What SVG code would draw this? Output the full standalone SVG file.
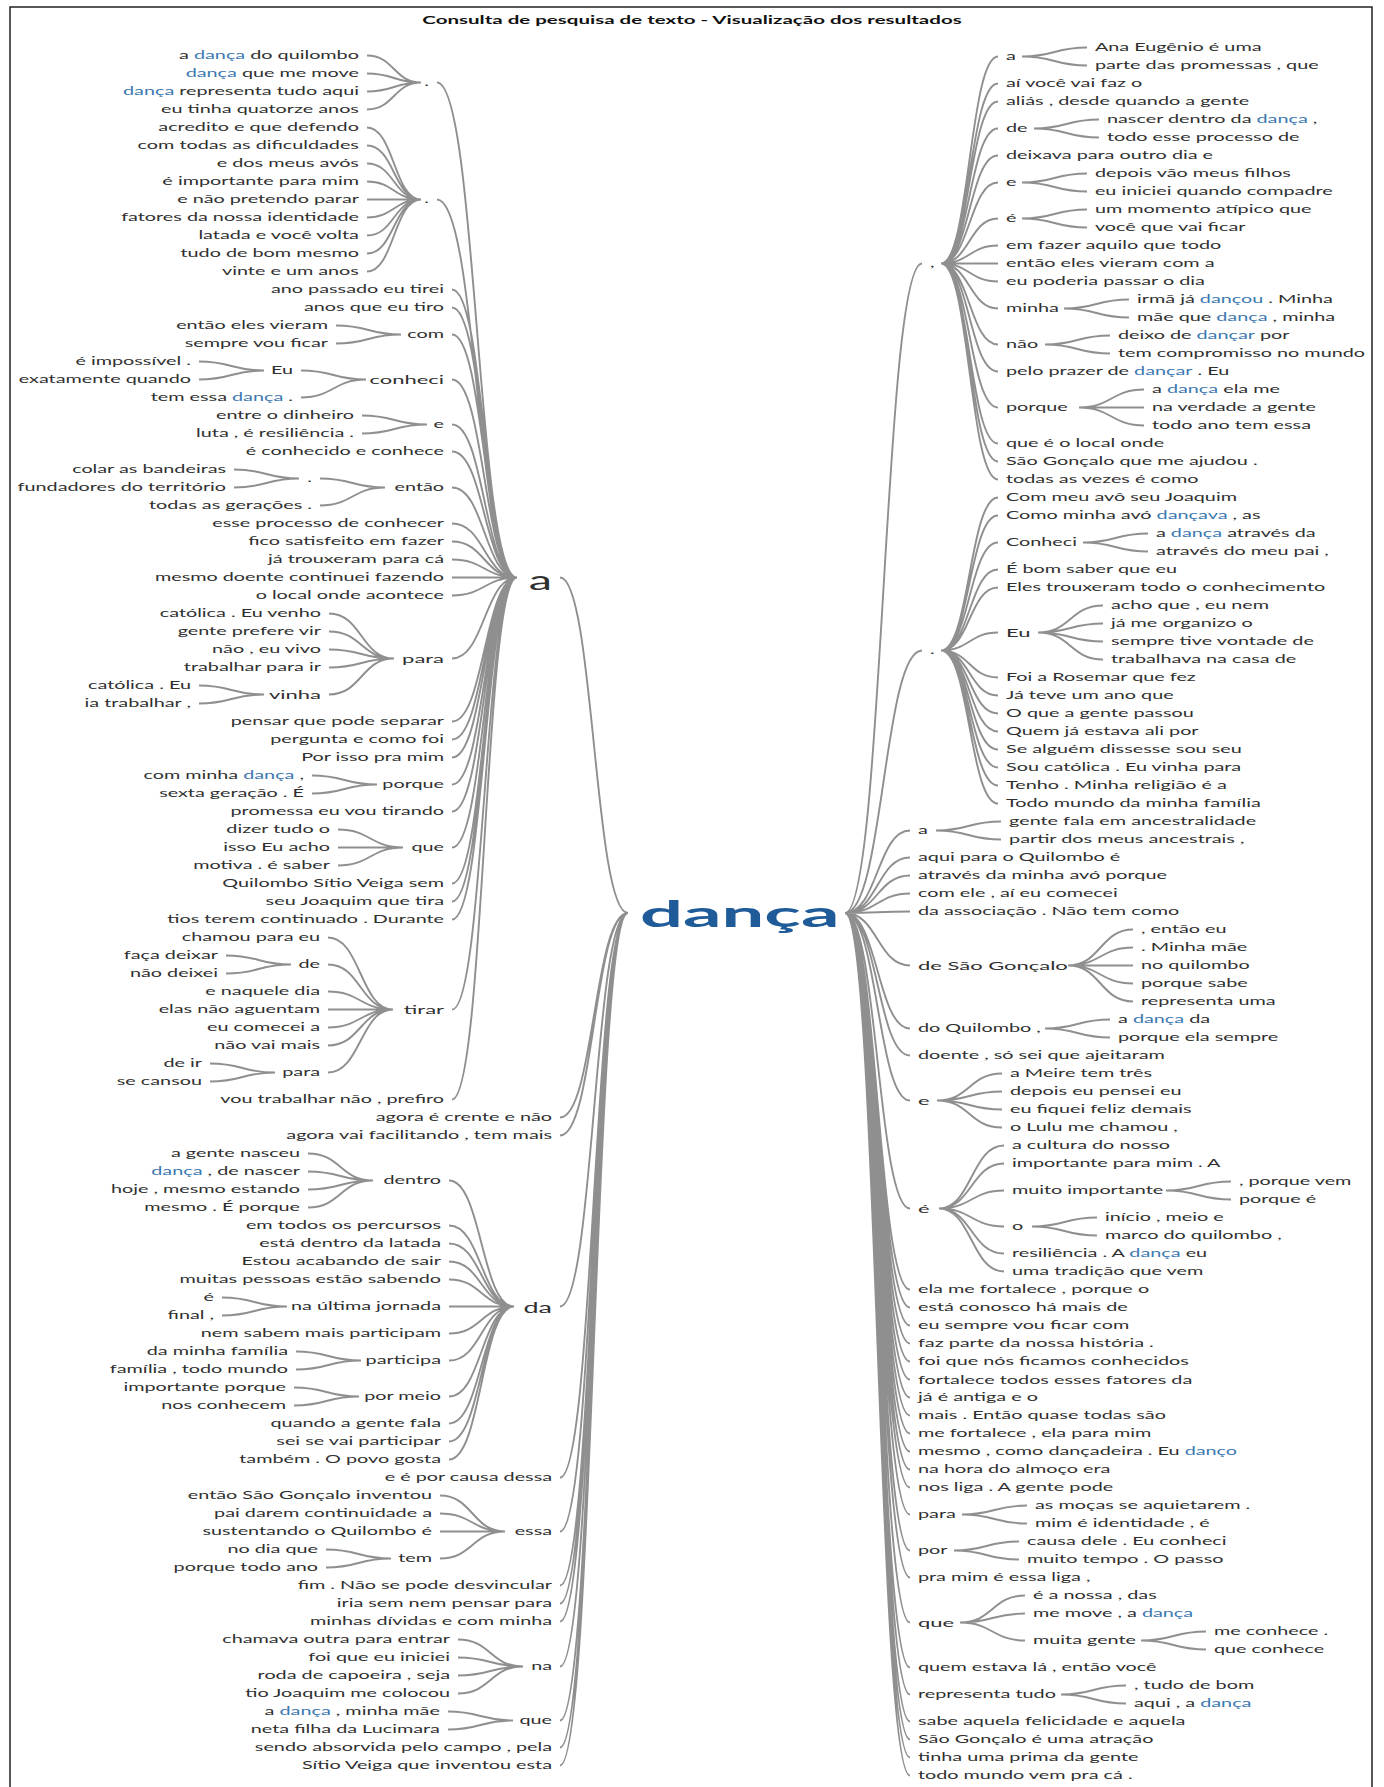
<svg xmlns="http://www.w3.org/2000/svg" width="1384" height="1787" viewBox="0 0 1384 1787">
<style>
.t{font-family:Lato,"Open Sans","Liberation Sans",sans-serif;font-size:11px;fill:#2f2f2f}
.e{text-anchor:end}
.m{font-size:12.2px}
.h{fill:#3b78b0}
.c{fill:none;stroke:#8f8f8f;stroke-width:1.9}
</style>
<rect x="10" y="7" width="1362" height="1800" fill="#fff" stroke="#222" stroke-width="1.5"/>
<g id="connectors" class="c">
<path d="M367 55.5C394 55.5 394 82.5 421 82.5M367 73.5C394 73.5 394 82.5 421 82.5M367 91.5C394 91.5 394 82.5 421 82.5M367 109.5C394 109.5 394 82.5 421 82.5"/>
<path d="M367 127.5C394 127.5 394 199.5 421 199.5M367 145.5C394 145.5 394 199.5 421 199.5M367 163.5C394 163.5 394 199.5 421 199.5M367 181.5C394 181.5 394 199.5 421 199.5M367 199.5C394 199.5 394 199.5 421 199.5M367 217.5C394 217.5 394 199.5 421 199.5M367 235.5C394 235.5 394 199.5 421 199.5M367 253.5C394 253.5 394 199.5 421 199.5M367 271.5C394 271.5 394 199.5 421 199.5"/>
<path d="M336 325.5C368.5 325.5 368.5 334.5 401 334.5M336 343.5C368.5 343.5 368.5 334.5 401 334.5"/>
<path d="M199 361.5C231.5 361.5 231.5 370.5 264 370.5M199 379.5C231.5 379.5 231.5 370.5 264 370.5"/>
<path d="M301 370.5C333.5 370.5 333.5 379.5 366 379.5M301 397.5C333.5 397.5 333.5 379.5 366 379.5"/>
<path d="M362 415.5C394.5 415.5 394.5 424.5 427 424.5M362 433.5C394.5 433.5 394.5 424.5 427 424.5"/>
<path d="M234 469.5C266.5 469.5 266.5 478.5 299 478.5M234 487.5C266.5 487.5 266.5 478.5 299 478.5"/>
<path d="M320 478.5C352.5 478.5 352.5 487.5 385 487.5M320 505.5C352.5 505.5 352.5 487.5 385 487.5"/>
<path d="M329 613.5C361.5 613.5 361.5 658.5 394 658.5M329 631.5C361.5 631.5 361.5 658.5 394 658.5M329 649.5C361.5 649.5 361.5 658.5 394 658.5M329 667.5C361.5 667.5 361.5 658.5 394 658.5M329 694.5C361.5 694.5 361.5 658.5 394 658.5"/>
<path d="M199 685.5C231.5 685.5 231.5 694.5 264 694.5M199 703.5C231.5 703.5 231.5 694.5 264 694.5"/>
<path d="M312 775.5C344.5 775.5 344.5 784.5 377 784.5M312 793.5C344.5 793.5 344.5 784.5 377 784.5"/>
<path d="M338 829.5C370.5 829.5 370.5 847.5 403 847.5M338 847.5C370.5 847.5 370.5 847.5 403 847.5M338 865.5C370.5 865.5 370.5 847.5 403 847.5"/>
<path d="M328 937.5C360.5 937.5 360.5 1009.5 393 1009.5M328 964.5C360.5 964.5 360.5 1009.5 393 1009.5M328 991.5C360.5 991.5 360.5 1009.5 393 1009.5M328 1009.5C360.5 1009.5 360.5 1009.5 393 1009.5M328 1027.5C360.5 1027.5 360.5 1009.5 393 1009.5M328 1045.5C360.5 1045.5 360.5 1009.5 393 1009.5M328 1072.5C360.5 1072.5 360.5 1009.5 393 1009.5"/>
<path d="M226 955.5C258.5 955.5 258.5 964.5 291 964.5M226 973.5C258.5 973.5 258.5 964.5 291 964.5"/>
<path d="M210 1063.5C242.5 1063.5 242.5 1072.5 275 1072.5M210 1081.5C242.5 1081.5 242.5 1072.5 275 1072.5"/>
<path d="M437 82.5C477 82.5 477 577.5 517 577.5M437 199.5C477 199.5 477 577.5 517 577.5M452 289.5C484.5 289.5 484.5 577.5 517 577.5M452 307.5C484.5 307.5 484.5 577.5 517 577.5M452 334.5C484.5 334.5 484.5 577.5 517 577.5M452 379.5C484.5 379.5 484.5 577.5 517 577.5M452 424.5C484.5 424.5 484.5 577.5 517 577.5M452 451.5C484.5 451.5 484.5 577.5 517 577.5M452 487.5C484.5 487.5 484.5 577.5 517 577.5M452 523.5C484.5 523.5 484.5 577.5 517 577.5M452 541.5C484.5 541.5 484.5 577.5 517 577.5M452 559.5C484.5 559.5 484.5 577.5 517 577.5M452 577.5C484.5 577.5 484.5 577.5 517 577.5M452 595.5C484.5 595.5 484.5 577.5 517 577.5M452 658.5C484.5 658.5 484.5 577.5 517 577.5M452 721.5C484.5 721.5 484.5 577.5 517 577.5M452 739.5C484.5 739.5 484.5 577.5 517 577.5M452 757.5C484.5 757.5 484.5 577.5 517 577.5M452 784.5C484.5 784.5 484.5 577.5 517 577.5M452 811.5C484.5 811.5 484.5 577.5 517 577.5M452 847.5C484.5 847.5 484.5 577.5 517 577.5M452 883.5C484.5 883.5 484.5 577.5 517 577.5M452 901.5C484.5 901.5 484.5 577.5 517 577.5M452 919.5C484.5 919.5 484.5 577.5 517 577.5M452 1009.5C484.5 1009.5 484.5 577.5 517 577.5M452 1099.5C484.5 1099.5 484.5 577.5 517 577.5"/>
<path d="M308 1153.5C340.5 1153.5 340.5 1180.5 373 1180.5M308 1171.5C340.5 1171.5 340.5 1180.5 373 1180.5M308 1189.5C340.5 1189.5 340.5 1180.5 373 1180.5M308 1207.5C340.5 1207.5 340.5 1180.5 373 1180.5"/>
<path d="M222 1297.5C254.5 1297.5 254.5 1306.5 287 1306.5M222 1315.5C254.5 1315.5 254.5 1306.5 287 1306.5"/>
<path d="M296 1351.5C328.5 1351.5 328.5 1360.5 361 1360.5M296 1369.5C328.5 1369.5 328.5 1360.5 361 1360.5"/>
<path d="M294 1387.5C326.5 1387.5 326.5 1396.5 359 1396.5M294 1405.5C326.5 1405.5 326.5 1396.5 359 1396.5"/>
<path d="M449 1180.5C481.5 1180.5 481.5 1306.5 514 1306.5M449 1225.5C481.5 1225.5 481.5 1306.5 514 1306.5M449 1243.5C481.5 1243.5 481.5 1306.5 514 1306.5M449 1261.5C481.5 1261.5 481.5 1306.5 514 1306.5M449 1279.5C481.5 1279.5 481.5 1306.5 514 1306.5M449 1306.5C481.5 1306.5 481.5 1306.5 514 1306.5M449 1333.5C481.5 1333.5 481.5 1306.5 514 1306.5M449 1360.5C481.5 1360.5 481.5 1306.5 514 1306.5M449 1396.5C481.5 1396.5 481.5 1306.5 514 1306.5M449 1423.5C481.5 1423.5 481.5 1306.5 514 1306.5M449 1441.5C481.5 1441.5 481.5 1306.5 514 1306.5M449 1459.5C481.5 1459.5 481.5 1306.5 514 1306.5"/>
<path d="M326 1549.5C358.5 1549.5 358.5 1558.5 391 1558.5M326 1567.5C358.5 1567.5 358.5 1558.5 391 1558.5"/>
<path d="M440 1495.5C472.5 1495.5 472.5 1531.5 505 1531.5M440 1513.5C472.5 1513.5 472.5 1531.5 505 1531.5M440 1531.5C472.5 1531.5 472.5 1531.5 505 1531.5M440 1558.5C472.5 1558.5 472.5 1531.5 505 1531.5"/>
<path d="M458 1639.5C490.5 1639.5 490.5 1666.5 523 1666.5M458 1657.5C490.5 1657.5 490.5 1666.5 523 1666.5M458 1675.5C490.5 1675.5 490.5 1666.5 523 1666.5M458 1693.5C490.5 1693.5 490.5 1666.5 523 1666.5"/>
<path d="M448 1711.5C480.5 1711.5 480.5 1720.5 513 1720.5M448 1729.5C480.5 1729.5 480.5 1720.5 513 1720.5"/>
<path d="M560 577.5C594 577.5 594 913 628 913M560 1117.5C594 1117.5 594 913 628 913M560 1135.5C594 1135.5 594 913 628 913M560 1306.5C594 1306.5 594 913 628 913M560 1477.5C594 1477.5 594 913 628 913M560 1531.5C594 1531.5 594 913 628 913M560 1585.5C594 1585.5 594 913 628 913M560 1603.5C594 1603.5 594 913 628 913M560 1621.5C594 1621.5 594 913 628 913M560 1666.5C594 1666.5 594 913 628 913M560 1720.5C594 1720.5 594 913 628 913M560 1747.5C594 1747.5 594 913 628 913M560 1765.5C594 1765.5 594 913 628 913"/>
<path d="M845 913C883.5 913 883.5 263.5 922 263.5M845 913C883.5 913 883.5 650.5 922 650.5M845 913C877.5 913 877.5 830.5 910 830.5M845 913C877.5 913 877.5 857.5 910 857.5M845 913C877.5 913 877.5 875.5 910 875.5M845 913C877.5 913 877.5 893.5 910 893.5M845 913C877.5 913 877.5 911.5 910 911.5M845 913C877.5 913 877.5 965.5 910 965.5M845 913C877.5 913 877.5 1028.5 910 1028.5M845 913C877.5 913 877.5 1055.5 910 1055.5M845 913C877.5 913 877.5 1100.5 910 1100.5M845 913C877.5 913 877.5 1208.5 910 1208.5M845 913C877.5 913 877.5 1289.5 910 1289.5M845 913C877.5 913 877.5 1307.5 910 1307.5M845 913C877.5 913 877.5 1325.5 910 1325.5M845 913C877.5 913 877.5 1343.5 910 1343.5M845 913C877.5 913 877.5 1361.5 910 1361.5M845 913C877.5 913 877.5 1379.5 910 1379.5M845 913C877.5 913 877.5 1397.5 910 1397.5M845 913C877.5 913 877.5 1415.5 910 1415.5M845 913C877.5 913 877.5 1433.5 910 1433.5M845 913C877.5 913 877.5 1451.5 910 1451.5M845 913C877.5 913 877.5 1469.5 910 1469.5M845 913C877.5 913 877.5 1487.5 910 1487.5M845 913C877.5 913 877.5 1514.5 910 1514.5M845 913C877.5 913 877.5 1550.5 910 1550.5M845 913C877.5 913 877.5 1577.5 910 1577.5M845 913C877.5 913 877.5 1622.5 910 1622.5M845 913C877.5 913 877.5 1667.5 910 1667.5M845 913C877.5 913 877.5 1694.5 910 1694.5M845 913C877.5 913 877.5 1721.5 910 1721.5M845 913C877.5 913 877.5 1739.5 910 1739.5M845 913C877.5 913 877.5 1757.5 910 1757.5M845 913C877.5 913 877.5 1775.5 910 1775.5"/>
<path d="M941 263.5C969.5 263.5 969.5 56.5 998 56.5M941 263.5C969.5 263.5 969.5 83.5 998 83.5M941 263.5C969.5 263.5 969.5 101.5 998 101.5M941 263.5C969.5 263.5 969.5 128.5 998 128.5M941 263.5C969.5 263.5 969.5 155.5 998 155.5M941 263.5C969.5 263.5 969.5 182.5 998 182.5M941 263.5C969.5 263.5 969.5 218.5 998 218.5M941 263.5C969.5 263.5 969.5 245.5 998 245.5M941 263.5C969.5 263.5 969.5 263.5 998 263.5M941 263.5C969.5 263.5 969.5 281.5 998 281.5M941 263.5C969.5 263.5 969.5 308.5 998 308.5M941 263.5C969.5 263.5 969.5 344.5 998 344.5M941 263.5C969.5 263.5 969.5 371.5 998 371.5M941 263.5C969.5 263.5 969.5 407.5 998 407.5M941 263.5C969.5 263.5 969.5 443.5 998 443.5M941 263.5C969.5 263.5 969.5 461.5 998 461.5M941 263.5C969.5 263.5 969.5 479.5 998 479.5"/>
<path d="M941 650.5C969.5 650.5 969.5 497.5 998 497.5M941 650.5C969.5 650.5 969.5 515.5 998 515.5M941 650.5C969.5 650.5 969.5 542.5 998 542.5M941 650.5C969.5 650.5 969.5 569.5 998 569.5M941 650.5C969.5 650.5 969.5 587.5 998 587.5M941 650.5C969.5 650.5 969.5 632.5 998 632.5M941 650.5C969.5 650.5 969.5 677.5 998 677.5M941 650.5C969.5 650.5 969.5 695.5 998 695.5M941 650.5C969.5 650.5 969.5 713.5 998 713.5M941 650.5C969.5 650.5 969.5 731.5 998 731.5M941 650.5C969.5 650.5 969.5 749.5 998 749.5M941 650.5C969.5 650.5 969.5 767.5 998 767.5M941 650.5C969.5 650.5 969.5 785.5 998 785.5M941 650.5C969.5 650.5 969.5 803.5 998 803.5"/>
<path d="M1022 56.5C1054.5 56.5 1054.5 47.5 1087 47.5M1022 56.5C1054.5 56.5 1054.5 65.5 1087 65.5"/>
<path d="M1034 128.5C1066.5 128.5 1066.5 119.5 1099 119.5M1034 128.5C1066.5 128.5 1066.5 137.5 1099 137.5"/>
<path d="M1022 182.5C1054.5 182.5 1054.5 173.5 1087 173.5M1022 182.5C1054.5 182.5 1054.5 191.5 1087 191.5"/>
<path d="M1022 218.5C1054.5 218.5 1054.5 209.5 1087 209.5M1022 218.5C1054.5 218.5 1054.5 227.5 1087 227.5"/>
<path d="M1064 308.5C1096.5 308.5 1096.5 299.5 1129 299.5M1064 308.5C1096.5 308.5 1096.5 317.5 1129 317.5"/>
<path d="M1045 344.5C1077.5 344.5 1077.5 335.5 1110 335.5M1045 344.5C1077.5 344.5 1077.5 353.5 1110 353.5"/>
<path d="M1079 407.5C1111.5 407.5 1111.5 389.5 1144 389.5M1079 407.5C1111.5 407.5 1111.5 407.5 1144 407.5M1079 407.5C1111.5 407.5 1111.5 425.5 1144 425.5"/>
<path d="M1083 542.5C1115.5 542.5 1115.5 533.5 1148 533.5M1083 542.5C1115.5 542.5 1115.5 551.5 1148 551.5"/>
<path d="M1038 632.5C1070.5 632.5 1070.5 605.5 1103 605.5M1038 632.5C1070.5 632.5 1070.5 623.5 1103 623.5M1038 632.5C1070.5 632.5 1070.5 641.5 1103 641.5M1038 632.5C1070.5 632.5 1070.5 659.5 1103 659.5"/>
<path d="M936 830.5C968.5 830.5 968.5 821.5 1001 821.5M936 830.5C968.5 830.5 968.5 839.5 1001 839.5"/>
<path d="M1068 965.5C1100.5 965.5 1100.5 929.5 1133 929.5M1068 965.5C1100.5 965.5 1100.5 947.5 1133 947.5M1068 965.5C1100.5 965.5 1100.5 965.5 1133 965.5M1068 965.5C1100.5 965.5 1100.5 983.5 1133 983.5M1068 965.5C1100.5 965.5 1100.5 1001.5 1133 1001.5"/>
<path d="M1045 1028.5C1077.5 1028.5 1077.5 1019.5 1110 1019.5M1045 1028.5C1077.5 1028.5 1077.5 1037.5 1110 1037.5"/>
<path d="M937 1100.5C969.5 1100.5 969.5 1073.5 1002 1073.5M937 1100.5C969.5 1100.5 969.5 1091.5 1002 1091.5M937 1100.5C969.5 1100.5 969.5 1109.5 1002 1109.5M937 1100.5C969.5 1100.5 969.5 1127.5 1002 1127.5"/>
<path d="M939 1208.5C971.5 1208.5 971.5 1145.5 1004 1145.5M939 1208.5C971.5 1208.5 971.5 1163.5 1004 1163.5M939 1208.5C971.5 1208.5 971.5 1190.5 1004 1190.5M939 1208.5C971.5 1208.5 971.5 1226.5 1004 1226.5M939 1208.5C971.5 1208.5 971.5 1253.5 1004 1253.5M939 1208.5C971.5 1208.5 971.5 1271.5 1004 1271.5"/>
<path d="M1166 1190.5C1198.5 1190.5 1198.5 1181.5 1231 1181.5M1166 1190.5C1198.5 1190.5 1198.5 1199.5 1231 1199.5"/>
<path d="M1032 1226.5C1064.5 1226.5 1064.5 1217.5 1097 1217.5M1032 1226.5C1064.5 1226.5 1064.5 1235.5 1097 1235.5"/>
<path d="M962 1514.5C994.5 1514.5 994.5 1505.5 1027 1505.5M962 1514.5C994.5 1514.5 994.5 1523.5 1027 1523.5"/>
<path d="M954 1550.5C986.5 1550.5 986.5 1541.5 1019 1541.5M954 1550.5C986.5 1550.5 986.5 1559.5 1019 1559.5"/>
<path d="M960 1622.5C992.5 1622.5 992.5 1595.5 1025 1595.5M960 1622.5C992.5 1622.5 992.5 1613.5 1025 1613.5M960 1622.5C992.5 1622.5 992.5 1640.5 1025 1640.5"/>
<path d="M1141 1640.5C1173.5 1640.5 1173.5 1631.5 1206 1631.5M1141 1640.5C1173.5 1640.5 1173.5 1649.5 1206 1649.5"/>
<path d="M1061 1694.5C1093.5 1694.5 1093.5 1685.5 1126 1685.5M1061 1694.5C1093.5 1694.5 1093.5 1703.5 1126 1703.5"/>
</g>
<g id="title"><text x="692" y="24" text-anchor="middle" transform="translate(692 0) scale(1.8 1) translate(-692 0)" style="font-family:Lato,'Liberation Sans',sans-serif;font-size:11.4px;font-weight:bold;fill:#111">Consulta de pesquisa de texto - Visualização dos resultados</text></g>
<g id="root"><text transform="translate(640 927) scale(2.05 1)" style="font-family:Lato,'Liberation Sans',sans-serif;font-size:37px;font-weight:bold;fill:#1f5b98">dança</text></g>
<g transform="scale(1.8 1)" class="t">
<g id="left-nodes" class="e">
<g id="nL-dot1"><text x="238.3" y="86.5">.</text></g>
<g id="nL-dot2"><text x="238.3" y="203.5">.</text></g>
<g id="nL-com"><text x="246.7" y="338.5">com</text></g>
<g id="nL-Eu"><text x="162.8" y="374.5">Eu</text></g>
<g id="nL-conheci"><text class="m" x="246.7" y="384">conheci</text></g>
<g id="nL-e"><text x="246.7" y="428.5">e</text></g>
<g id="nL-dot3"><text x="173.3" y="482.5">.</text></g>
<g id="nL-entao"><text x="246.7" y="491.5">então</text></g>
<g id="nL-para"><text class="m" x="246.7" y="663">para</text></g>
<g id="nL-vinha"><text class="m" x="178.3" y="699">vinha</text></g>
<g id="nL-porque"><text x="246.7" y="788.5">porque</text></g>
<g id="nL-que"><text x="246.7" y="851.5">que</text></g>
<g id="nL-tirar"><text class="m" x="246.7" y="1014">tirar</text></g>
<g id="nL-de"><text x="177.8" y="968.5">de</text></g>
<g id="nL-para2"><text x="177.8" y="1076.5">para</text></g>
<g id="nL-a"><text x="306.7" y="590" style="font-size:26px">a</text></g>
<g id="nL-da"><text x="306.7" y="1313.5" style="font-size:15px">da</text></g>
<g id="nL-dentro"><text x="245" y="1184.5">dentro</text></g>
<g id="nL-naultima"><text x="245" y="1310.5">na última jornada</text></g>
<g id="nL-participa"><text x="245" y="1364.5">participa</text></g>
<g id="nL-pormeio"><text x="245" y="1400.5">por meio</text></g>
<g id="nL-essa"><text x="306.7" y="1535.5">essa</text></g>
<g id="nL-tem"><text x="240" y="1562.5">tem</text></g>
<g id="nL-na"><text x="306.7" y="1670.5">na</text></g>
<g id="nL-que2"><text x="306.7" y="1724.5">que</text></g>
</g>
<g id="left-leaves" class="e">
<g id="l0"><text x="199.4" y="59.5">a <tspan class="h">dança</tspan> do quilombo</text></g>
<g id="l1"><text x="199.4" y="77.5"><tspan class="h">dança</tspan> que me move</text></g>
<g id="l2"><text x="199.4" y="95.5"><tspan class="h">dança</tspan> representa tudo aqui</text></g>
<g id="l3"><text x="199.4" y="113.5">eu tinha quatorze anos</text></g>
<g id="l4"><text x="199.4" y="131.5">acredito e que defendo</text></g>
<g id="l5"><text x="199.4" y="149.5">com todas as dificuldades</text></g>
<g id="l6"><text x="199.4" y="167.5">e dos meus avós</text></g>
<g id="l7"><text x="199.4" y="185.5">é importante para mim</text></g>
<g id="l8"><text x="199.4" y="203.5">e não pretendo parar</text></g>
<g id="l9"><text x="199.4" y="221.5">fatores da nossa identidade</text></g>
<g id="l10"><text x="199.4" y="239.5">latada e você volta</text></g>
<g id="l11"><text x="199.4" y="257.5">tudo de bom mesmo</text></g>
<g id="l12"><text x="199.4" y="275.5">vinte e um anos</text></g>
<g id="l13"><text x="246.7" y="293.5">ano passado eu tirei</text></g>
<g id="l14"><text x="246.7" y="311.5">anos que eu tiro</text></g>
<g id="l15"><text x="182.2" y="329.5">então eles vieram</text></g>
<g id="l16"><text x="182.2" y="347.5">sempre vou ficar</text></g>
<g id="l17"><text x="106.1" y="365.5">é impossível .</text></g>
<g id="l18"><text x="106.1" y="383.5">exatamente quando</text></g>
<g id="l19"><text x="162.8" y="401.5">tem essa <tspan class="h">dança</tspan> .</text></g>
<g id="l20"><text x="196.7" y="419.5">entre o dinheiro</text></g>
<g id="l21"><text x="196.7" y="437.5">luta , é resiliência .</text></g>
<g id="l22"><text x="246.7" y="455.5">é conhecido e conhece</text></g>
<g id="l23"><text x="125.6" y="473.5">colar as bandeiras</text></g>
<g id="l24"><text x="125.6" y="491.5">fundadores do território</text></g>
<g id="l25"><text x="173.3" y="509.5">todas as gerações .</text></g>
<g id="l26"><text x="246.7" y="527.5">esse processo de conhecer</text></g>
<g id="l27"><text x="246.7" y="545.5">fico satisfeito em fazer</text></g>
<g id="l28"><text x="246.7" y="563.5">já trouxeram para cá</text></g>
<g id="l29"><text x="246.7" y="581.5">mesmo doente continuei fazendo</text></g>
<g id="l30"><text x="246.7" y="599.5">o local onde acontece</text></g>
<g id="l31"><text x="178.3" y="617.5">católica . Eu venho</text></g>
<g id="l32"><text x="178.3" y="635.5">gente prefere vir</text></g>
<g id="l33"><text x="178.3" y="653.5">não , eu vivo</text></g>
<g id="l34"><text x="178.3" y="671.5">trabalhar para ir</text></g>
<g id="l35"><text x="106.1" y="689.5">católica . Eu</text></g>
<g id="l36"><text x="106.1" y="707.5">ia trabalhar ,</text></g>
<g id="l37"><text x="246.7" y="725.5">pensar que pode separar</text></g>
<g id="l38"><text x="246.7" y="743.5">pergunta e como foi</text></g>
<g id="l39"><text x="246.7" y="761.5">Por isso pra mim</text></g>
<g id="l40"><text x="168.9" y="779.5">com minha <tspan class="h">dança</tspan> ,</text></g>
<g id="l41"><text x="168.9" y="797.5">sexta geração . É</text></g>
<g id="l42"><text x="246.7" y="815.5">promessa eu vou tirando</text></g>
<g id="l43"><text x="183.3" y="833.5">dizer tudo o</text></g>
<g id="l44"><text x="183.3" y="851.5">isso Eu acho</text></g>
<g id="l45"><text x="183.3" y="869.5">motiva . é saber</text></g>
<g id="l46"><text x="246.7" y="887.5">Quilombo Sítio Veiga sem</text></g>
<g id="l47"><text x="246.7" y="905.5">seu Joaquim que tira</text></g>
<g id="l48"><text x="246.7" y="923.5">tios terem continuado . Durante</text></g>
<g id="l49"><text x="177.8" y="941.5">chamou para eu</text></g>
<g id="l50"><text x="121.1" y="959.5">faça deixar</text></g>
<g id="l51"><text x="121.1" y="977.5">não deixei</text></g>
<g id="l52"><text x="177.8" y="995.5">e naquele dia</text></g>
<g id="l53"><text x="177.8" y="1013.5">elas não aguentam</text></g>
<g id="l54"><text x="177.8" y="1031.5">eu comecei a</text></g>
<g id="l55"><text x="177.8" y="1049.5">não vai mais</text></g>
<g id="l56"><text x="112.2" y="1067.5">de ir</text></g>
<g id="l57"><text x="112.2" y="1085.5">se cansou</text></g>
<g id="l58"><text x="246.7" y="1103.5">vou trabalhar não , prefiro</text></g>
<g id="l59"><text x="306.7" y="1121.5">agora é crente e não</text></g>
<g id="l60"><text x="306.7" y="1139.5">agora vai facilitando , tem mais</text></g>
<g id="l61"><text x="166.7" y="1157.5">a gente nasceu</text></g>
<g id="l62"><text x="166.7" y="1175.5"><tspan class="h">dança</tspan> , de nascer</text></g>
<g id="l63"><text x="166.7" y="1193.5">hoje , mesmo estando</text></g>
<g id="l64"><text x="166.7" y="1211.5">mesmo . É porque</text></g>
<g id="l65"><text x="245" y="1229.5">em todos os percursos</text></g>
<g id="l66"><text x="245" y="1247.5">está dentro da latada</text></g>
<g id="l67"><text x="245" y="1265.5">Estou acabando de sair</text></g>
<g id="l68"><text x="245" y="1283.5">muitas pessoas estão sabendo</text></g>
<g id="l69"><text x="118.9" y="1301.5">é</text></g>
<g id="l70"><text x="118.9" y="1319.5">final ,</text></g>
<g id="l71"><text x="245" y="1337.5">nem sabem mais participam</text></g>
<g id="l72"><text x="160" y="1355.5">da minha família</text></g>
<g id="l73"><text x="160" y="1373.5">família , todo mundo</text></g>
<g id="l74"><text x="158.9" y="1391.5">importante porque</text></g>
<g id="l75"><text x="158.9" y="1409.5">nos conhecem</text></g>
<g id="l76"><text x="245" y="1427.5">quando a gente fala</text></g>
<g id="l77"><text x="245" y="1445.5">sei se vai participar</text></g>
<g id="l78"><text x="245" y="1463.5">também . O povo gosta</text></g>
<g id="l79"><text x="306.7" y="1481.5">e é por causa dessa</text></g>
<g id="l80"><text x="240" y="1499.5">então São Gonçalo inventou</text></g>
<g id="l81"><text x="240" y="1517.5">pai darem continuidade a</text></g>
<g id="l82"><text x="240" y="1535.5">sustentando o Quilombo é</text></g>
<g id="l83"><text x="176.7" y="1553.5">no dia que</text></g>
<g id="l84"><text x="176.7" y="1571.5">porque todo ano</text></g>
<g id="l85"><text x="306.7" y="1589.5">fim . Não se pode desvincular</text></g>
<g id="l86"><text x="306.7" y="1607.5">iria sem nem pensar para</text></g>
<g id="l87"><text x="306.7" y="1625.5">minhas dívidas e com minha</text></g>
<g id="l88"><text x="250" y="1643.5">chamava outra para entrar</text></g>
<g id="l89"><text x="250" y="1661.5">foi que eu iniciei</text></g>
<g id="l90"><text x="250" y="1679.5">roda de capoeira , seja</text></g>
<g id="l91"><text x="250" y="1697.5">tio Joaquim me colocou</text></g>
<g id="l92"><text x="244.4" y="1715.5">a <tspan class="h">dança</tspan> , minha mãe</text></g>
<g id="l93"><text x="244.4" y="1733.5">neta filha da Lucimara</text></g>
<g id="l94"><text x="306.7" y="1751.5">sendo absorvida pelo campo , pela</text></g>
<g id="l95"><text x="306.7" y="1769.5">Sítio Veiga que inventou esta</text></g>
</g>
<g id="right-nodes">
<g id="nR-comma"><text x="516.7" y="267.5">,</text></g>
<g id="nR-dot"><text x="516.7" y="654.5">.</text></g>
<g id="nR-a0"><text x="558.9" y="60.5">a</text></g>
<g id="nR-de"><text x="558.9" y="132.5">de</text></g>
<g id="nR-e0"><text x="558.9" y="186.5">e</text></g>
<g id="nR-e1"><text x="558.9" y="222.5">é</text></g>
<g id="nR-minha"><text x="558.9" y="312.5">minha</text></g>
<g id="nR-nao"><text x="558.9" y="348.5">não</text></g>
<g id="nR-porque"><text x="558.9" y="411.5">porque</text></g>
<g id="nR-Conheci"><text x="558.9" y="546.5">Conheci</text></g>
<g id="nR-Eu"><text class="m" x="558.9" y="637">Eu</text></g>
<g id="nR-a"><text x="510" y="834.5">a</text></g>
<g id="nR-deSG"><text class="m" x="510" y="970">de São Gonçalo</text></g>
<g id="nR-doQ"><text x="510" y="1032.5">do Quilombo ,</text></g>
<g id="nR-e"><text class="m" x="510" y="1105">e</text></g>
<g id="nR-eacc"><text class="m" x="510" y="1213">é</text></g>
<g id="nR-muito"><text x="562.2" y="1194.5">muito importante</text></g>
<g id="nR-o"><text x="562.2" y="1230.5">o</text></g>
<g id="nR-para"><text x="510" y="1518.5">para</text></g>
<g id="nR-por"><text x="510" y="1554.5">por</text></g>
<g id="nR-que"><text class="m" x="510" y="1627">que</text></g>
<g id="nR-muita"><text x="573.9" y="1644.5">muita gente</text></g>
<g id="nR-repr"><text x="510" y="1698.5">representa tudo</text></g>
</g>
<g id="right-leaves">
<g id="r0"><text x="608.3" y="51.5">Ana Eugênio é uma</text></g>
<g id="r1"><text x="608.3" y="69.5">parte das promessas , que</text></g>
<g id="r2"><text x="558.9" y="87.5">aí você vai faz o</text></g>
<g id="r3"><text x="558.9" y="105.5">aliás , desde quando a gente</text></g>
<g id="r4"><text x="615" y="123.5">nascer dentro da <tspan class="h">dança</tspan> ,</text></g>
<g id="r5"><text x="615" y="141.5">todo esse processo de</text></g>
<g id="r6"><text x="558.9" y="159.5">deixava para outro dia e</text></g>
<g id="r7"><text x="608.3" y="177.5">depois vão meus filhos</text></g>
<g id="r8"><text x="608.3" y="195.5">eu iniciei quando compadre</text></g>
<g id="r9"><text x="608.3" y="213.5">um momento atípico que</text></g>
<g id="r10"><text x="608.3" y="231.5">você que vai ficar</text></g>
<g id="r11"><text x="558.9" y="249.5">em fazer aquilo que todo</text></g>
<g id="r12"><text x="558.9" y="267.5">então eles vieram com a</text></g>
<g id="r13"><text x="558.9" y="285.5">eu poderia passar o dia</text></g>
<g id="r14"><text x="631.7" y="303.5">irmã já <tspan class="h">dançou</tspan> . Minha</text></g>
<g id="r15"><text x="631.7" y="321.5">mãe que <tspan class="h">dança</tspan> , minha</text></g>
<g id="r16"><text x="621.1" y="339.5">deixo de <tspan class="h">dançar</tspan> por</text></g>
<g id="r17"><text x="621.1" y="357.5">tem compromisso no mundo</text></g>
<g id="r18"><text x="558.9" y="375.5">pelo prazer de <tspan class="h">dançar</tspan> . Eu</text></g>
<g id="r19"><text x="640" y="393.5">a <tspan class="h">dança</tspan> ela me</text></g>
<g id="r20"><text x="640" y="411.5">na verdade a gente</text></g>
<g id="r21"><text x="640" y="429.5">todo ano tem essa</text></g>
<g id="r22"><text x="558.9" y="447.5">que é o local onde</text></g>
<g id="r23"><text x="558.9" y="465.5">São Gonçalo que me ajudou .</text></g>
<g id="r24"><text x="558.9" y="483.5">todas as vezes é como</text></g>
<g id="r25"><text x="558.9" y="501.5">Com meu avô seu Joaquim</text></g>
<g id="r26"><text x="558.9" y="519.5">Como minha avó <tspan class="h">dançava</tspan> , as</text></g>
<g id="r27"><text x="642.2" y="537.5">a <tspan class="h">dança</tspan> através da</text></g>
<g id="r28"><text x="642.2" y="555.5">através do meu pai ,</text></g>
<g id="r29"><text x="558.9" y="573.5">É bom saber que eu</text></g>
<g id="r30"><text x="558.9" y="591.5">Eles trouxeram todo o conhecimento</text></g>
<g id="r31"><text x="617.2" y="609.5">acho que , eu nem</text></g>
<g id="r32"><text x="617.2" y="627.5">já me organizo o</text></g>
<g id="r33"><text x="617.2" y="645.5">sempre tive vontade de</text></g>
<g id="r34"><text x="617.2" y="663.5">trabalhava na casa de</text></g>
<g id="r35"><text x="558.9" y="681.5">Foi a Rosemar que fez</text></g>
<g id="r36"><text x="558.9" y="699.5">Já teve um ano que</text></g>
<g id="r37"><text x="558.9" y="717.5">O que a gente passou</text></g>
<g id="r38"><text x="558.9" y="735.5">Quem já estava ali por</text></g>
<g id="r39"><text x="558.9" y="753.5">Se alguém dissesse sou seu</text></g>
<g id="r40"><text x="558.9" y="771.5">Sou católica . Eu vinha para</text></g>
<g id="r41"><text x="558.9" y="789.5">Tenho . Minha religião é a</text></g>
<g id="r42"><text x="558.9" y="807.5">Todo mundo da minha família</text></g>
<g id="r43"><text x="560.6" y="825.5">gente fala em ancestralidade</text></g>
<g id="r44"><text x="560.6" y="843.5">partir dos meus ancestrais ,</text></g>
<g id="r45"><text x="510" y="861.5">aqui para o Quilombo é</text></g>
<g id="r46"><text x="510" y="879.5">através da minha avó porque</text></g>
<g id="r47"><text x="510" y="897.5">com ele , aí eu comecei</text></g>
<g id="r48"><text x="510" y="915.5">da associação . Não tem como</text></g>
<g id="r49"><text x="633.9" y="933.5">, então eu</text></g>
<g id="r50"><text x="633.9" y="951.5">. Minha mãe</text></g>
<g id="r51"><text x="633.9" y="969.5">no quilombo</text></g>
<g id="r52"><text x="633.9" y="987.5">porque sabe</text></g>
<g id="r53"><text x="633.9" y="1005.5">representa uma</text></g>
<g id="r54"><text x="621.1" y="1023.5">a <tspan class="h">dança</tspan> da</text></g>
<g id="r55"><text x="621.1" y="1041.5">porque ela sempre</text></g>
<g id="r56"><text x="510" y="1059.5">doente , só sei que ajeitaram</text></g>
<g id="r57"><text x="561.1" y="1077.5">a Meire tem três</text></g>
<g id="r58"><text x="561.1" y="1095.5">depois eu pensei eu</text></g>
<g id="r59"><text x="561.1" y="1113.5">eu fiquei feliz demais</text></g>
<g id="r60"><text x="561.1" y="1131.5">o Lulu me chamou ,</text></g>
<g id="r61"><text x="562.2" y="1149.5">a cultura do nosso</text></g>
<g id="r62"><text x="562.2" y="1167.5">importante para mim . A</text></g>
<g id="r63"><text x="688.3" y="1185.5">, porque vem</text></g>
<g id="r64"><text x="688.3" y="1203.5">porque é</text></g>
<g id="r65"><text x="613.9" y="1221.5">início , meio e</text></g>
<g id="r66"><text x="613.9" y="1239.5">marco do quilombo ,</text></g>
<g id="r67"><text x="562.2" y="1257.5">resiliência . A <tspan class="h">dança</tspan> eu</text></g>
<g id="r68"><text x="562.2" y="1275.5">uma tradição que vem</text></g>
<g id="r69"><text x="510" y="1293.5">ela me fortalece , porque o</text></g>
<g id="r70"><text x="510" y="1311.5">está conosco há mais de</text></g>
<g id="r71"><text x="510" y="1329.5">eu sempre vou ficar com</text></g>
<g id="r72"><text x="510" y="1347.5">faz parte da nossa história .</text></g>
<g id="r73"><text x="510" y="1365.5">foi que nós ficamos conhecidos</text></g>
<g id="r74"><text x="510" y="1383.5">fortalece todos esses fatores da</text></g>
<g id="r75"><text x="510" y="1401.5">já é antiga e o</text></g>
<g id="r76"><text x="510" y="1419.5">mais . Então quase todas são</text></g>
<g id="r77"><text x="510" y="1437.5">me fortalece , ela para mim</text></g>
<g id="r78"><text x="510" y="1455.5">mesmo , como dançadeira . Eu <tspan class="h">danço</tspan></text></g>
<g id="r79"><text x="510" y="1473.5">na hora do almoço era</text></g>
<g id="r80"><text x="510" y="1491.5">nos liga . A gente pode</text></g>
<g id="r81"><text x="575" y="1509.5">as moças se aquietarem .</text></g>
<g id="r82"><text x="575" y="1527.5">mim é identidade , é</text></g>
<g id="r83"><text x="570.6" y="1545.5">causa dele . Eu conheci</text></g>
<g id="r84"><text x="570.6" y="1563.5">muito tempo . O passo</text></g>
<g id="r85"><text x="510" y="1581.5">pra mim é essa liga ,</text></g>
<g id="r86"><text x="573.9" y="1599.5">é a nossa , das</text></g>
<g id="r87"><text x="573.9" y="1617.5">me move , a <tspan class="h">dança</tspan></text></g>
<g id="r88"><text x="674.4" y="1635.5">me conhece .</text></g>
<g id="r89"><text x="674.4" y="1653.5">que conhece</text></g>
<g id="r90"><text x="510" y="1671.5">quem estava lá , então você</text></g>
<g id="r91"><text x="630" y="1689.5">, tudo de bom</text></g>
<g id="r92"><text x="630" y="1707.5">aqui , a <tspan class="h">dança</tspan></text></g>
<g id="r93"><text x="510" y="1725.5">sabe aquela felicidade e aquela</text></g>
<g id="r94"><text x="510" y="1743.5">São Gonçalo é uma atração</text></g>
<g id="r95"><text x="510" y="1761.5">tinha uma prima da gente</text></g>
<g id="r96"><text x="510" y="1779.5">todo mundo vem pra cá .</text></g>
</g>
</g>
</svg>
